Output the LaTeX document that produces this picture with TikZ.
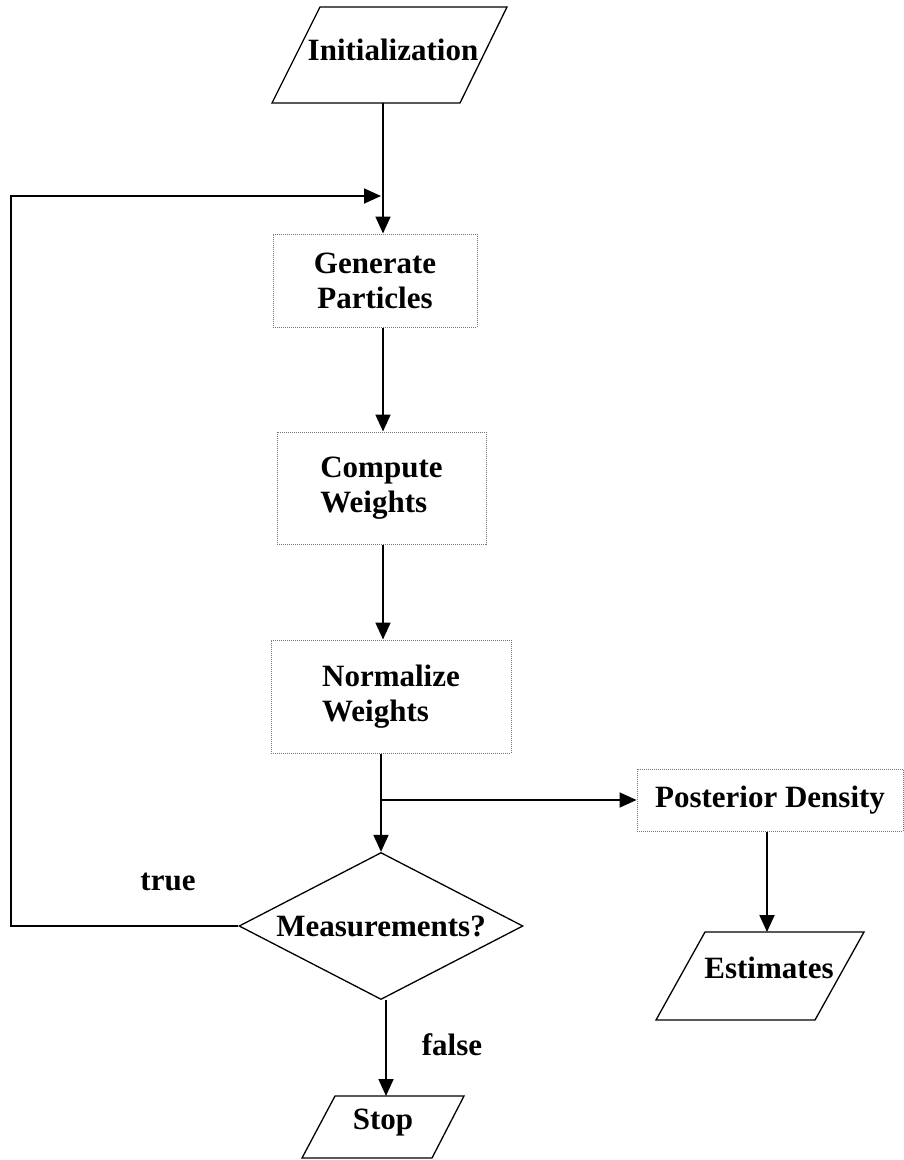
\documentclass[tikz,border=0pt]{standalone}
\usepackage{fontspec}
\setmainfont{Liberation Serif}
\usetikzlibrary{shapes.geometric,arrows.meta}
\begin{document}
\begin{tikzpicture}[x=1pt,y=-1pt,
  every node/.style={font=\bfseries\fontsize{31}{35}\selectfont},
  stepbox/.style={draw=black!55, line width=1pt, dash pattern=on 1pt off 1pt, inner sep=0pt},
  para/.style={draw=black, line width=1.3pt, line join=miter},
  txt/.style={inner sep=0pt},
  flow/.style={draw=black, line width=1.8pt, -{Triangle[length=17pt,width=15pt]}},
  plain/.style={draw=black, line width=1.8pt}
]
\useasboundingbox (0,0) rectangle (904,1160);

% Initialization
\draw[para] (320,7) -- (507,7) -- (460,103) -- (272,103) -- cycle;
\node[txt] (init) at (393,50) {Initialization};
\coordinate (initout) at (383,103);

% boxes
\node[stepbox, minimum width=204pt, minimum height=93pt, align=center] (gen) at (375,280.5) {Generate\\Particles};
\node[stepbox, minimum width=209pt, minimum height=112pt, align=left] (comp) at (381.5,488) {Compute\\Weights};
\node[stepbox, minimum width=240pt, minimum height=113pt, align=left] (norm) at (391,696.5) {Normalize\\Weights};
\node[stepbox, minimum width=266pt, minimum height=62pt] (post) at (770,800) {Posterior Density};

% decision
\node[diamond, draw=black, line width=1.3pt, aspect=1.93, inner sep=0pt, minimum width=284pt, minimum height=147pt] (meas) at (381,926) {Measurements?};

% Estimates
\draw[para] (705,932) -- (864,932) -- (815,1020) -- (656,1020) -- cycle;
\node[txt] (est) at (769,968) {Estimates};
\coordinate (estin) at (767,932);

% Stop
\draw[para] (335,1096) -- (464,1096) -- (432,1158) -- (302,1158) -- cycle;
\node[txt] (stop) at (383,1123) {Stop};
\coordinate (stopin) at (386,1096);

% labels
\node[txt] (true) at (168,882) {true};
\node[txt] (false) at (452,1045) {false};

% connectors
\coordinate (col) at (383,0);
\coordinate (loopcorner) at (11,196);
\coordinate (loopend) at (381,196);
\draw[flow] (initout) -- (initout |- gen.north);
\draw[flow] (gen.south -| col) -- (comp.north -| col);
\draw[flow] (comp.south -| col) -- (norm.north -| col);
\draw[flow] (norm.south -| meas.north) -- (meas.north);
\draw[flow] (meas.north |- post.west) -- (post.west);
\draw[flow] (estin |- post.south) -- (estin);
\draw[flow] (stopin |- meas.south) -- (stopin);
\draw[flow] (meas.west) -| (loopcorner) -- (loopend);
\end{tikzpicture}
\end{document}
